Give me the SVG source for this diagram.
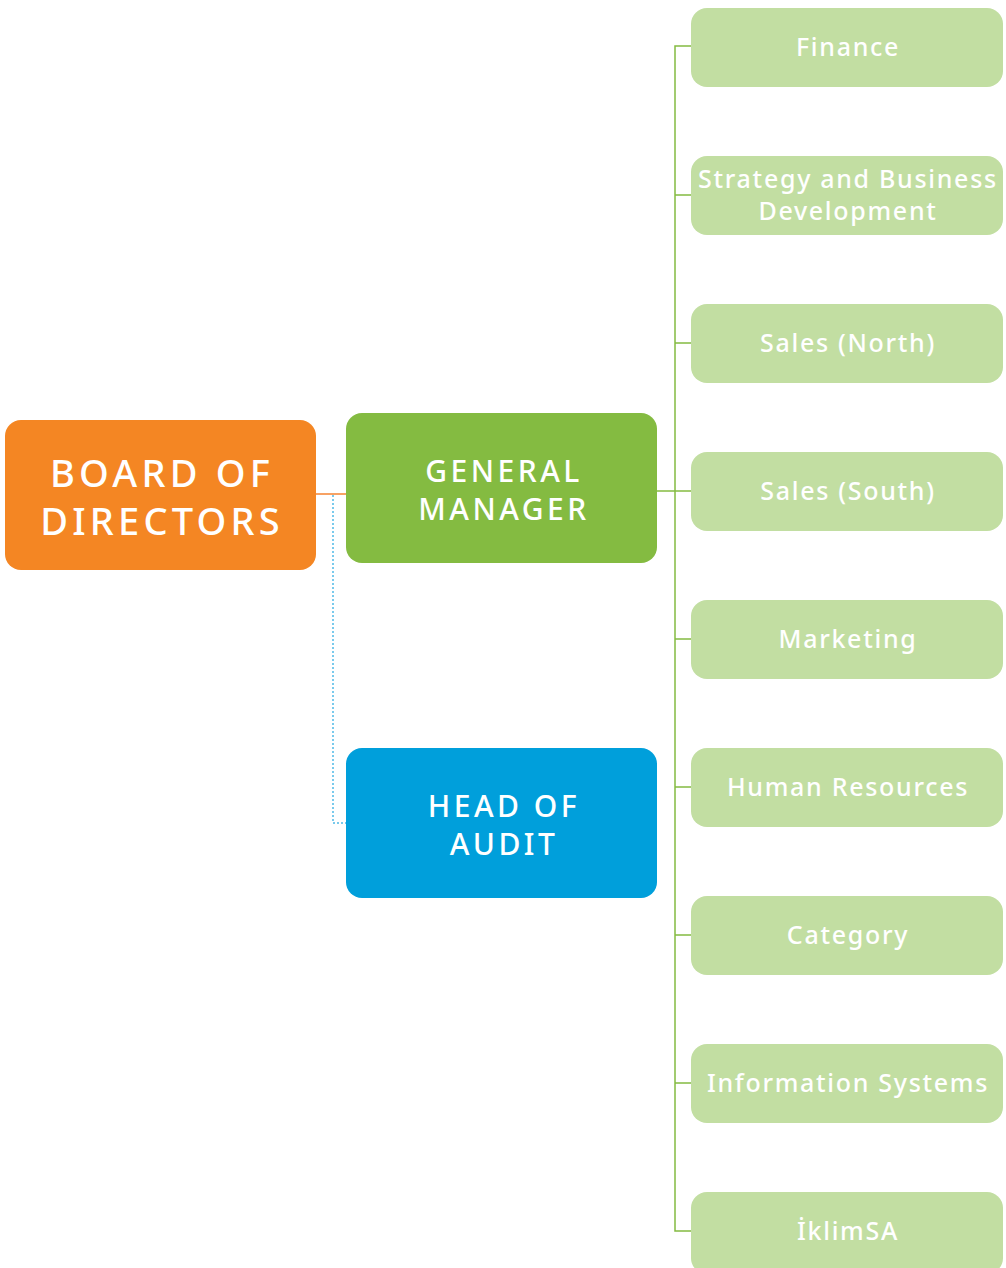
<svg xmlns="http://www.w3.org/2000/svg" width="1006" height="1268" viewBox="0 0 1006 1268">
  <style>
    .lbl { font-family: "Noto Sans", "Open Sans", "DejaVu Sans", sans-serif; fill: #ffffff; text-anchor: middle; }
    .big { font-size: 38px; font-weight: 500; letter-spacing: 4.2px; }
    .mid { font-size: 30px; font-weight: 500; letter-spacing: 3.5px; }
    .dept { font-size: 25px; font-weight: 500; letter-spacing: 1.7px; }
    .deptbox { fill: #c2dea2; }
  </style>
  <rect width="1006" height="1268" fill="#ffffff"/>

  <!-- connectors -->
  <g id="connectors" fill="none">
    <line x1="316" y1="494" x2="346" y2="494" stroke="#f7a264" stroke-width="2"/>
    <polyline points="333,495 333,823 346,823" stroke="#4fb9e6" stroke-width="1.5" stroke-dasharray="2,2"/>
    <line x1="657" y1="491" x2="691" y2="491" stroke="#84bb41" stroke-width="1.5"/>
    <path d="M691,46 H675 V1231 H691 M675,195 H691 M675,343 H691 M675,639 H691 M675,787 H691 M675,935 H691 M675,1083 H691" stroke="#84bb41" stroke-width="1.5"/>
  </g>

  <g id="board">
    <rect x="5" y="420" width="311" height="150" rx="16" fill="#f48623"/>
    <text class="lbl big" x="162" y="487">BOARD OF</text>
    <text class="lbl big" x="162" y="535">DIRECTORS</text>
  </g>

  <g id="general-manager">
    <rect x="346" y="413" width="311" height="150" rx="16" fill="#84bb41"/>
    <text class="lbl mid" x="504" y="482">GENERAL</text>
    <text class="lbl mid" x="504" y="520">MANAGER</text>
  </g>

  <g id="head-of-audit">
    <rect x="346" y="748" width="311" height="150" rx="16" fill="#009fdb"/>
    <text class="lbl mid" x="504" y="817">HEAD OF</text>
    <text class="lbl mid" x="504" y="855">AUDIT</text>
  </g>

  <g id="finance">
    <rect class="deptbox" x="691" y="8" width="312" height="79" rx="16"/>
    <text class="lbl dept" x="848" y="56">Finance</text>
  </g>
  <g id="strategy">
    <rect class="deptbox" x="691" y="156" width="312" height="79" rx="16"/>
    <text class="lbl dept" x="848" y="188">Strategy and Business</text>
    <text class="lbl dept" x="848" y="220">Development</text>
  </g>
  <g id="sales-north">
    <rect class="deptbox" x="691" y="304" width="312" height="79" rx="16"/>
    <text class="lbl dept" x="848" y="352">Sales (North)</text>
  </g>
  <g id="sales-south">
    <rect class="deptbox" x="691" y="452" width="312" height="79" rx="16"/>
    <text class="lbl dept" x="848" y="500">Sales (South)</text>
  </g>
  <g id="marketing">
    <rect class="deptbox" x="691" y="600" width="312" height="79" rx="16"/>
    <text class="lbl dept" x="848" y="648">Marketing</text>
  </g>
  <g id="human-resources">
    <rect class="deptbox" x="691" y="748" width="312" height="79" rx="16"/>
    <text class="lbl dept" x="848" y="796">Human Resources</text>
  </g>
  <g id="category">
    <rect class="deptbox" x="691" y="896" width="312" height="79" rx="16"/>
    <text class="lbl dept" x="848" y="944">Category</text>
  </g>
  <g id="information-systems">
    <rect class="deptbox" x="691" y="1044" width="312" height="79" rx="16"/>
    <text class="lbl dept" x="848" y="1092">Information Systems</text>
  </g>
  <g id="iklimsa">
    <rect class="deptbox" x="691" y="1192" width="312" height="82" rx="16"/>
    <text class="lbl dept" x="848" y="1240">İklimSA</text>
  </g>
</svg>
